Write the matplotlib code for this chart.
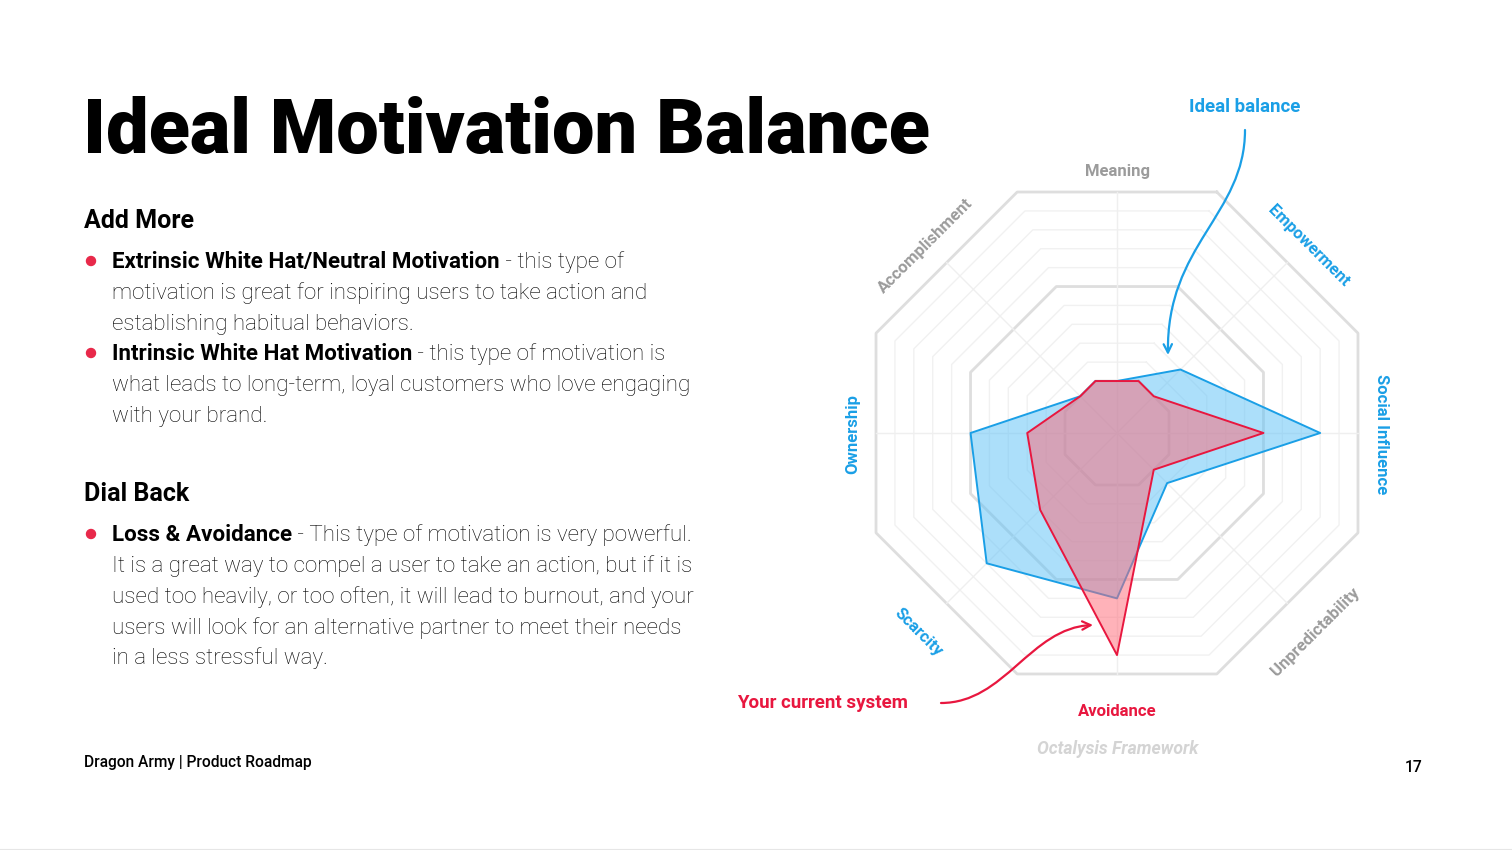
import numpy as np
import matplotlib.pyplot as plt
from matplotlib.path import Path
from matplotlib.patches import FancyArrowPatch, Ellipse

plt.rcParams['font.family'] = ['Roboto', 'DejaVu Sans']

# ---- data ----
categories = ['Meaning', 'Empowerment', 'Social Influence', 'Unpredictability',
              'Avoidance', 'Scarcity', 'Ownership', 'Accomplishment']
ideal = [0, 2, 8, 1, 6, 7, 5, 0]
current = [0, 0, 5, 0, 9, 3, 2, 0]
label_colors = ['#9b9b9b', '#1a9fe6', '#1a9fe6', '#9b9b9b',
                '#e8173f', '#1a9fe6', '#1a9fe6', '#9b9b9b']
label_rot = [0, -45, -90, 45, 0, -45, 90, 45]
levels = list(range(0, 11))

BLUE = '#1a9fe6'
RED = '#e8173f'
W, H = 1512, 850
CX, CY, U = 1117, 433, 18.9   # radar centre (px) and px per unit
BASE = 2.75                    # inner octagon apothem
c225 = np.cos(np.radians(22.5))

fig = plt.figure(figsize=(W / 100, H / 100), dpi=100)
ax = fig.add_axes([0, 0, 1, 1])
ax.set_xlim(-CX / U, (W - CX) / U)
ax.set_ylim(-(H - CY) / U, CY / U)
ax.axis('off')


def P(px, py):
    return ((px - CX) / U, (CY - py) / U)


# grid
for lv in levels:
    rv = (BASE + lv) / c225
    th = np.radians(22.5 + 45 * np.arange(9))
    thick = lv in (0, 5, 10)
    ax.plot(rv * np.sin(th), rv * np.cos(th),
            color='#dedede' if thick else '#f1f1f1',
            lw=2.0 if thick else 1.0, zorder=1)
for k in range(8):
    t = np.radians(45 * k)
    r = BASE + 10
    ax.plot([0, r * np.sin(t)], [0, r * np.cos(t)], color='#efefef', lw=1, zorder=1)


def shape(vals):
    xs, ys = [], []
    n = len(vals)
    corner = BASE / c225
    for k in range(n):
        a = BASE + vals[k]
        b = BASE + vals[(k + 1) % n]
        t0 = np.radians(45 * k)
        xs.append(a * np.sin(t0))
        ys.append(a * np.cos(t0))
        chord = a * b * np.sin(np.radians(45)) / ((a + b) * np.sin(np.radians(22.5)))
        if corner > chord:
            tm = t0 + np.radians(22.5)
            xs.append(corner * np.sin(tm))
            ys.append(corner * np.cos(tm))
    return xs, ys


bx, by = shape(ideal)
ax.fill(bx, by, color='#5bc1f7', alpha=0.5, lw=0, zorder=2)
ax.plot(bx + bx[:1], by + by[:1], color=BLUE, lw=1.4, zorder=3)
rx, ry = shape(current)
ax.fill(rx, ry, color='#ff6775', alpha=0.5, lw=0, zorder=4)
ax.plot(rx + rx[:1], ry + ry[:1], color=RED, lw=1.4, zorder=5)

# axis labels
for k, name in enumerate(categories):
    t = np.radians(45 * k)
    s2 = np.sin(2 * t) ** 2
    rl = 14.0 + 0.29 * np.cos(t) ** 2 + s2 * (0.47 - 0.37 * np.cos(t))
    dy = 0.05 + 0.4 * np.cos(t) ** 2 - 0.35 * s2 * max(0, -np.cos(t))
    ax.text(rl * np.sin(t), rl * np.cos(t) - dy, name, color=label_colors[k],
            rotation=label_rot[k], rotation_mode='anchor', ha='center', va='center',
            fontsize=12, fontweight='bold')

ax.text(*P(1118, 749), 'Octalysis Framework', color='#d4d4d4', fontsize=12.7,
        fontweight='bold', style='italic', ha='center', va='center')

# annotations
ax.text(*P(1245, 107), 'Ideal balance', color=BLUE, fontsize=13.5,
        fontweight='bold', ha='center', va='center')
path = Path([P(1245, 130), P(1245, 215), P(1166, 245), P(1168, 355)],
            [Path.MOVETO, Path.CURVE4, Path.CURVE4, Path.CURVE4])
ax.add_patch(FancyArrowPatch(path=path, arrowstyle='->,head_length=6,head_width=3',
                             color=BLUE, lw=1.6, zorder=6))
ax.text(*P(822, 703), 'Your current system', color=RED, fontsize=13.5,
        fontweight='bold', ha='center', va='center')
path = Path([P(941, 703), P(1005, 703), P(1030, 628), P(1093, 625)],
            [Path.MOVETO, Path.CURVE4, Path.CURVE4, Path.CURVE4])
ax.add_patch(FancyArrowPatch(path=path, arrowstyle='->,head_length=6,head_width=3',
                             color=RED, lw=1.6, zorder=6))

# ---- left side text ----
renderer = fig.canvas.get_renderer()


def ftext(px, py, s, **kw):
    return fig.text(px / W, 1 - py / H, s, **kw)


ftext(83, 153, 'Ideal Motivation Balance', fontsize=54.5, fontweight='heavy',
      va='baseline', color='#000000')
ftext(84, 228, 'Add More', fontsize=18, fontweight='bold', va='baseline')
ftext(84, 501, 'Dial Back', fontsize=18, fontweight='bold', va='baseline')

BODY = 16.1
TXT = '#000000'
bullets = [
    (268, 'Extrinsic White Hat/Neutral Motivation', ' - this type of'),
    (360, 'Intrinsic White Hat Motivation', ' - this type of motivation is'),
    (541, 'Loss & Avoidance', ' - This type of motivation is very powerful.'),
]
cont = [
    (299, 'motivation is great for inspiring users to take action and'),
    (330, 'establishing habitual behaviors.'),
    (391, 'what leads to long-term, loyal customers who love engaging'),
    (422, 'with your brand.'),
    (572, 'It is a great way to compel a user to take an action, but if it is'),
    (603, 'used too heavily, or too often, it will lead to burnout, and your'),
    (634, 'users will look for an alternative partner to meet their needs'),
    (664, 'in a less stressful way.'),
]
for by_, bold, rest in bullets:
    fig.add_artist(Ellipse((91 / W, 1 - (by_ - 7) / H), 9 / W, 9 / H,
                           transform=fig.transFigure, color='#e8294a'))
    t = ftext(112, by_, bold, fontsize=BODY, fontweight='bold', va='baseline', color='#000')
    wpx = t.get_window_extent(renderer).width
    ftext(112 + wpx, by_, rest, fontsize=BODY, fontweight='light', va='baseline', color=TXT)
for y_, s in cont:
    ftext(112, y_, s, fontsize=BODY, fontweight='light', va='baseline', color=TXT)

ftext(84, 767, 'Dragon Army | Product Roadmap', fontsize=11.2, fontweight='medium',
      va='baseline')
ftext(1414, 772, '17', fontsize=11.3, fontweight='medium', va='baseline', ha='center')

fig.add_artist(plt.Line2D([0, 1], [0.5 / H, 0.5 / H], transform=fig.transFigure,
                          color='#e6e6e6', lw=1.5))

fig.savefig('out.png', dpi=100, facecolor='white')
